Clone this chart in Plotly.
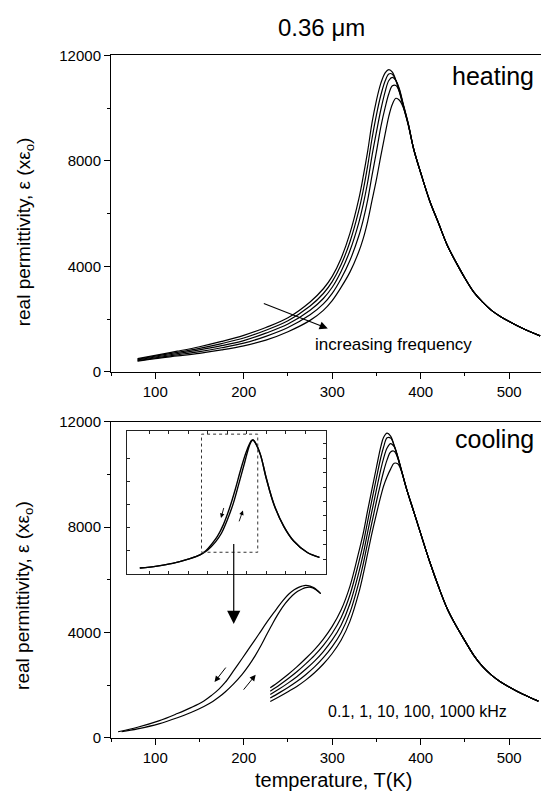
import plotly.graph_objects as go

FONT = "Liberation Sans, Arial, sans-serif"
# the page body adds an 8 px margin, so the figure is drawn 8 px smaller and all
# screen positions are shifted by that offset
OFF = 8
W, H = 549 - OFF, 805 - OFF


def PX(x):
    return (x - OFF) / W


def PY(y):
    return 1 - (y - OFF) / H


# ---------------- data: heating (top panel) ----------------
heat_T = [80, 100, 125, 150, 175, 200, 225, 250, 275, 290, 300, 310, 320, 330, 335, 340, 345, 350, 355, 360,
          364, 368, 372, 376, 380, 386, 392, 400, 410, 420, 430, 440, 450, 460, 470, 480, 490, 500, 515, 535]
heat_0p1kHz = [500, 620, 780, 950, 1150, 1380, 1680, 2050, 2650, 3150, 3620, 4300, 5250, 6550, 7400, 8350, 9450, 10300, 10950, 11350,
               11465, 11370, 11050, 10600, 10100, 9350, 8450, 7550, 6500, 5650, 4800, 4150, 3550, 3020, 2640, 2330, 2100, 1910, 1650, 1360]
heat_1kHz = [475, 590, 735, 890, 1070, 1280, 1575, 1935, 2495, 2970, 3420, 4060, 4925, 6110, 6880, 7800, 8850, 9750, 10500, 11050,
             11300, 11290, 11050, 10680, 10150, 9380, 8460, 7550, 6500, 5650, 4800, 4150, 3550, 3020, 2640, 2330, 2100, 1910, 1650, 1360]
heat_10kHz = [450, 560, 690, 830, 990, 1180, 1465, 1810, 2335, 2780, 3205, 3805, 4590, 5650, 6345, 7180, 8200, 9100, 9950, 10650,
              11050, 11165, 11050, 10720, 10200, 9400, 8460, 7550, 6500, 5650, 4800, 4150, 3550, 3020, 2640, 2330, 2100, 1910, 1650, 1360]
heat_100kHz = [425, 530, 645, 765, 910, 1085, 1345, 1680, 2160, 2575, 2975, 3530, 4220, 5150, 5755, 6500, 7450, 8350, 9300, 10050,
               10550, 10850, 10860, 10620, 10150, 9400, 8460, 7550, 6500, 5650, 4800, 4150, 3550, 3020, 2640, 2330, 2100, 1910, 1650, 1360]
heat_1000kHz = [400, 500, 600, 700, 830, 985, 1200, 1520, 1950, 2330, 2700, 3200, 3780, 4550, 5050, 5700, 6500, 7300, 8200, 9050,
                9700, 10150, 10376, 10300, 10050, 9380, 8460, 7550, 6500, 5650, 4800, 4150, 3550, 3020, 2640, 2330, 2100, 1910, 1650, 1360]

# ---------------- data: cooling (bottom panel) ----------------
cool_T = [230, 240, 250, 260, 270, 280, 290, 300, 310, 320, 330, 335, 340, 345, 350, 355, 358, 362, 366, 370,
          374, 378, 384, 392, 400, 410, 420, 430, 440, 450, 460, 470, 480, 490, 500, 515, 533]
cool_0p1kHz = [1900, 2140, 2400, 2690, 3010, 3350, 3750, 4230, 4850, 5750, 7050, 7750, 8620, 9450, 10270, 11060, 11400, 11565, 11450, 11100,
               10650, 10150, 9450, 8600, 7750, 6700, 5750, 4900, 4250, 3680, 3130, 2700, 2380, 2130, 1930, 1660, 1390]
cool_1kHz = [1770, 1995, 2240, 2505, 2805, 3130, 3510, 3970, 4560, 5420, 6660, 7360, 8210, 9050, 9870, 10650, 11030, 11390, 11380, 11100,
             10680, 10180, 9450, 8600, 7750, 6700, 5750, 4900, 4250, 3680, 3130, 2700, 2380, 2130, 1930, 1660, 1390]
cool_10kHz = [1640, 1850, 2075, 2320, 2600, 2910, 3275, 3715, 4275, 5090, 6270, 6970, 7800, 8620, 9420, 10200, 10600, 11000, 11170, 11050,
              10680, 10200, 9450, 8600, 7750, 6700, 5750, 4900, 4250, 3680, 3130, 2700, 2380, 2130, 1930, 1660, 1390]
cool_100kHz = [1510, 1705, 1910, 2135, 2395, 2690, 3040, 3460, 3990, 4750, 5890, 6590, 7400, 8200, 8970, 9700, 10100, 10550, 10850, 10880,
               10620, 10180, 9450, 8600, 7750, 6700, 5750, 4900, 4250, 3680, 3130, 2700, 2380, 2130, 1930, 1660, 1390]
cool_1000kHz = [1380, 1560, 1750, 1950, 2190, 2470, 2800, 3200, 3700, 4420, 5500, 6200, 6990, 7780, 8500, 9180, 9550, 9910, 10200, 10420,
                10400, 10150, 9450, 8600, 7750, 6700, 5750, 4900, 4250, 3680, 3130, 2700, 2380, 2130, 1930, 1660, 1390]

# magnified hysteresis loop drawn in the bottom panel
hyst_cool_T = [58, 80, 104, 125, 141, 155, 164, 172, 179, 188, 198, 207, 217, 226, 236, 244, 251, 257, 262, 266, 270, 275, 279, 283, 287]
hyst_cool_eps = [230, 400, 640, 920, 1156, 1400, 1620, 1850, 2100, 2520, 3000, 3440, 3930, 4380, 4840, 5200, 5460, 5620, 5710, 5760,
                 5785, 5760, 5700, 5600, 5474]
hyst_heat_T = [62, 80, 104, 125, 141, 155, 165, 172, 179, 188, 198, 206, 213, 220, 226, 233, 240, 247, 255, 261, 266, 270, 274, 278, 282, 287]
hyst_heat_eps = [230, 340, 530, 760, 970, 1190, 1380, 1545, 1740, 2030, 2400, 2760, 3120, 3530, 3920, 4360, 4760, 5100, 5400, 5560,
                 5650, 5700, 5722, 5690, 5610, 5474]

# inset (full curve, lowest frequency, heating and cooling)
inset_heat_T = [76, 120, 160, 200, 230, 250, 270, 285, 300, 315, 330, 345, 355, 362, 366, 372, 385, 400, 420, 445, 470, 505, 536]
inset_heat_eps = [480, 650, 880, 1250, 1620, 2050, 2750, 3500, 4650, 6050, 7850, 9700, 10950, 11500, 11590, 11350, 10300, 8250,
                  5950, 4080, 2830, 1830, 1410]
inset_cool_T = [76, 120, 160, 200, 230, 245, 260, 275, 290, 305, 320, 335, 348, 357, 362, 366, 372, 385, 400, 420, 445, 470, 505, 536]
inset_cool_eps = [480, 650, 880, 1250, 1620, 1980, 2550, 3250, 4250, 5600, 7250, 9100, 10500, 11250, 11540, 11590, 11350, 10300, 8250,
                  5950, 4080, 2830, 1830, 1410]
inset_x_ticks = [100, 150, 200, 250, 300, 350, 400, 450, 500]
inset_left_ticks = [2000, 4000, 6000, 8000, 10000]
inset_right_ticks = [1250, 2500, 3750, 5000, 6250, 7500, 8750, 10000, 11250]
inset_zoom_box = [234, 378, 1850, 12100]  # T0, T1, eps0, eps1

# arrows (tail T, tail eps, head T, head eps)
freq_arrow = [221, 2615, 295, 1640]
hyst_down_arrow = [181, 2722, 167, 2118]
hyst_up_arrow = [198.5, 1770, 213.5, 2389]
big_arrow = [188.7, 7411, 188.7, 4317]
inset_down_arrow = [292, 5822, 284, 4828]
inset_up_arrow = [329, 4402, 340, 5481]

# ---------------- figure ----------------
fig = go.Figure()
line = dict(color="black", width=1.2, shape="spline", smoothing=1.0)

for ys in [heat_0p1kHz, heat_1kHz, heat_10kHz, heat_100kHz, heat_1000kHz]:
    fig.add_trace(go.Scatter(x=heat_T, y=ys, mode="lines", line=line, xaxis="x", yaxis="y",
                             showlegend=False, hoverinfo="skip"))
for ys in [cool_0p1kHz, cool_1kHz, cool_10kHz, cool_100kHz, cool_1000kHz]:
    fig.add_trace(go.Scatter(x=cool_T, y=ys, mode="lines", line=line, xaxis="x2", yaxis="y2",
                             showlegend=False, hoverinfo="skip"))
for xs, ys in [(hyst_cool_T, hyst_cool_eps), (hyst_heat_T, hyst_heat_eps)]:
    fig.add_trace(go.Scatter(x=xs, y=ys, mode="lines", line=line, xaxis="x2", yaxis="y2",
                             showlegend=False, hoverinfo="skip"))
for xs, ys in [(inset_cool_T, inset_cool_eps), (inset_heat_T, inset_heat_eps)]:
    fig.add_trace(go.Scatter(x=xs, y=ys, mode="lines",
                             line=dict(color="black", width=1.4, shape="spline", smoothing=1.0),
                             xaxis="x3", yaxis="y3", showlegend=False, hoverinfo="skip"))
fig.add_trace(go.Scatter(x=[None], y=[None], mode="lines", xaxis="x3", yaxis="y4",
                         showlegend=False, hoverinfo="skip"))

XDOM = [PX(111), 1.0]
TOP_DOM = [PY(370.5), PY(47.3)]
BOT_DOM = [PY(744.5), PY(421.5)]
tickfont = dict(family=FONT, size=15, color="black")


def main_x(anchor):
    return dict(domain=XDOM, range=[50, 545], anchor=anchor, showline=True, linecolor="black", linewidth=1,
                mirror=True, ticks="outside", ticklen=6, tickwidth=1, tickcolor="black", tick0=0, dtick=100,
                minor=dict(dtick=50, ticks="outside", ticklen=3, tickwidth=1, tickcolor="black"),
                showgrid=False, zeroline=False, tickfont=tickfont, tickformat="d")


def main_y(domain, anchor):
    return dict(domain=domain, range=[0, 12000], anchor=anchor, showline=True, linecolor="black", linewidth=1,
                mirror=False, ticks="outside", ticklen=6, tickwidth=1, tickcolor="black", tick0=0, dtick=4000,
                minor=dict(dtick=2000, ticks="outside", ticklen=3, tickwidth=1, tickcolor="black"),
                showgrid=False, zeroline=False, tickfont=tickfont, tickformat="d")


inset_common = dict(showline=True, linecolor="#222", linewidth=1, ticks="inside", ticklen=3, tickwidth=1,
                    tickcolor="#222", showticklabels=False, showgrid=False, zeroline=False)

fig.update_layout(
    width=W, height=H, margin=dict(l=0, r=0, t=0, b=0),
    paper_bgcolor="white", plot_bgcolor="white",
    font=dict(family=FONT, color="black"),
    xaxis=main_x("y"), yaxis=main_y(TOP_DOM, "x"),
    xaxis2=main_x("y2"), yaxis2=main_y(BOT_DOM, "x2"),
    xaxis3=dict(domain=[PX(127.3), PX(325.7)], range=[44, 552], anchor="y3", mirror="ticks",
                tickvals=inset_x_ticks, **inset_common),
    yaxis3=dict(domain=[PY(576.7), PY(430.7)], range=[0, 12400], anchor="x3", mirror=True,
                tickvals=inset_left_ticks, **inset_common),
    yaxis4=dict(overlaying="y3", anchor="x3", side="right", range=[0, 12400], tickvals=inset_right_ticks,
                ticks="inside", ticklen=3, tickwidth=1, tickcolor="#222", showticklabels=False,
                showline=False, showgrid=False, zeroline=False),
)

fig.add_shape(type="rect", xref="x3", yref="y3", x0=inset_zoom_box[0], x1=inset_zoom_box[1],
              y0=inset_zoom_box[2], y1=inset_zoom_box[3], line=dict(color="#333", width=1, dash="dot"))

ann = []


def text(t, x, y, size, xanchor="center", angle=0):
    ann.append(dict(text=t, x=PX(x), y=PY(y), xref="paper", yref="paper", showarrow=False, xanchor=xanchor,
                    yanchor="middle", textangle=angle, font=dict(family=FONT, size=size, color="black")))


text("0.36 \u03bcm", 321, 19, 24)
text("heating", 536, 68, 25, xanchor="right")
text("cooling", 536, 439.6, 25, xanchor="right")
text("increasing frequency", 393, 342.5, 17)
text("0.1, 1, 10, 100, 1000 kHz", 417.8, 717.5, 16)
text("real permittivity, \u03b5 (x\u03b5<sub>o</sub>)", 24.5, 227.5, 19, angle=-90)
text("real permittivity, \u03b5 (x\u03b5<sub>o</sub>)", 24.5, 599, 19, angle=-90)
text("temperature, T(K)", 333, 788, 20)


def arrow(a, xr, yr, head=2, size=1.4, width=1.0):
    ann.append(dict(text="", x=a[2], y=a[3], ax=a[0], ay=a[1], xref=xr, yref=yr, axref=xr, ayref=yr,
                    showarrow=True, arrowhead=head, arrowsize=size, arrowwidth=width, arrowcolor="black",
                    standoff=0, startstandoff=0))


arrow(freq_arrow, "x", "y", size=1.5, width=1.1)
arrow(hyst_down_arrow, "x2", "y2", size=1.2, width=1.0)
arrow(hyst_up_arrow, "x2", "y2", size=1.2, width=1.0)
arrow(big_arrow, "x2", "y2", size=2.2, width=1.2)
arrow(inset_down_arrow, "x3", "y3", size=1.0, width=0.9)
arrow(inset_up_arrow, "x3", "y3", size=1.0, width=0.9)

fig.update_layout(annotations=ann)
fig.write_html("out.html", config={"displayModeBar": False})
